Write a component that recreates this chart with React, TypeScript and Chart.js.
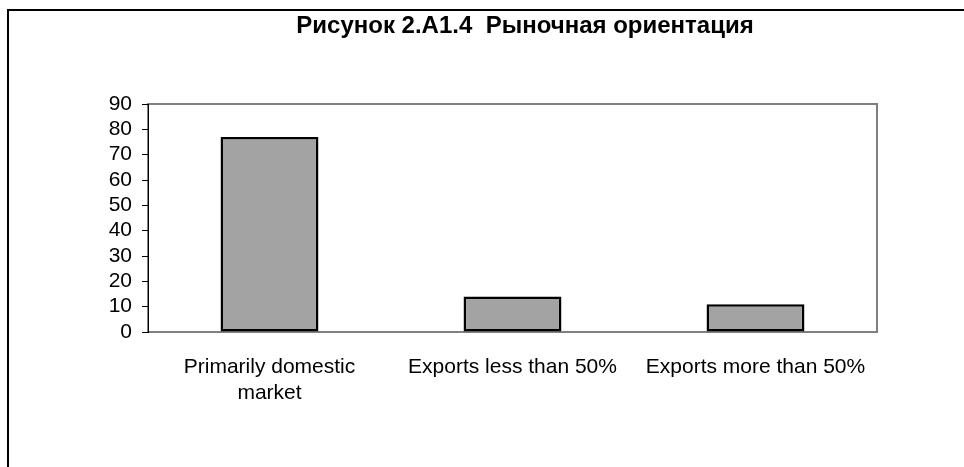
import React, { useEffect, useRef } from "react";
import { Chart, registerables } from "chart.js";

Chart.register(...registerables);

const categories: (string | string[])[] = [
  ["Primarily domestic", "market"],
  "Exports less than 50%",
  "Exports more than 50%",
];
const values: number[] = [77, 14, 11];
const yTicks = { min: 0, max: 90, step: 10 };
const titleText = "Рисунок 2.А1.4  Рыночная ориентация";

const FONT = "'Liberation Sans', Arial, sans-serif";

const decorPlugin = {
  id: "decor",
  beforeDraw(chart: any) {
    const { ctx, chartArea } = chart;
    ctx.save();
    // outer frame
    ctx.strokeStyle = "#000";
    ctx.lineWidth = 2;
    ctx.strokeRect(8, 10, 3000, 3000);
    // plot area frame
    ctx.strokeStyle = "#808080";
    ctx.lineWidth = 2;
    ctx.strokeRect(chartArea.left, chartArea.top, chartArea.right - chartArea.left, chartArea.bottom - chartArea.top);
    // title
    ctx.fillStyle = "#000";
    ctx.font = `bold 24px ${FONT}`;
    ctx.textAlign = "center";
    ctx.textBaseline = "alphabetic";
    ctx.fillText(titleText, 525, 33);
    ctx.restore();
  },
};

export default function App() {
  const ref = useRef<HTMLCanvasElement | null>(null);
  useEffect(() => {
    if (!ref.current) return;
    const chart = new Chart(ref.current, {
      type: "bar",
      data: {
        labels: categories,
        datasets: [
          {
            data: values,
            backgroundColor: "#A3A3A3",
            borderColor: "#000",
            borderWidth: 2.5,
            borderSkipped: false,
            barPercentage: 0.403,
            categoryPercentage: 1,
          },
        ],
      },
      options: {
        animation: false,
        responsive: true,
        maintainAspectRatio: false,
        layout: { padding: { left: 0, right: 87, top: 104, bottom: 0 } },
        plugins: {
          legend: { display: false },
          title: { display: false },
          tooltip: { enabled: false },
        },
        scales: {
          x: {
            grid: { display: false },
            border: { display: false },
            ticks: {
              color: "#000",
              font: { family: FONT, size: 21, lineHeight: 1.2 },
              padding: 15,
              maxRotation: 0,
              autoSkip: false,
            },
            afterFit: (s: any) => {
              s.height = 135;
            },
          },
          y: {
            min: yTicks.min,
            max: yTicks.max,
            ticks: {
              stepSize: yTicks.step,
              autoSkip: false,
              color: "#000",
              font: { family: FONT, size: 21 },
              padding: 10,
            },
            grid: {
              drawOnChartArea: false,
              drawTicks: true,
              tickLength: 6,
              color: "#000",
              lineWidth: 1,
            },
            border: { display: true, color: "#000", width: 1 },
            afterFit: (s: any) => {
              s.width = 148;
            },
          },
        },
      },
      plugins: [decorPlugin],
    });
    return () => chart.destroy();
  }, []);
  return (
    <div style={{ position: "fixed", left: 0, top: 0, width: 964, height: 467, background: "#fff" }}>
      <canvas ref={ref} />
    </div>
  );
}
